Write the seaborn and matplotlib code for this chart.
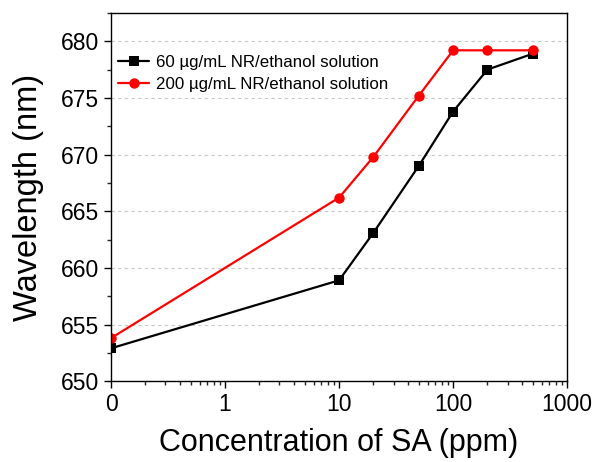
import numpy as np
import pandas as pd
import matplotlib
matplotlib.use("Agg")
import matplotlib.pyplot as plt
import seaborn as sns
from matplotlib.ticker import FixedLocator, LogLocator, MultipleLocator, NullFormatter

# data
conc = [0, 10, 20, 50, 100, 200, 500]
wl_60 = [652.9, 658.9, 663.1, 669.0, 673.8, 677.5, 678.9]
wl_200 = [653.8, 666.2, 669.8, 675.2, 679.2, 679.2, 679.2]
labels = ["60 \u00b5g/mL NR/ethanol solution", "200 \u00b5g/mL NR/ethanol solution"]
xticks = [0.1, 1, 10, 100, 1000]
xticklabels = ["0", "1", "10", "100", "1000"]

sns.set_style("ticks")
plt.rcParams['font.family'] = ['Liberation Sans', 'DejaVu Sans']
plt.rcParams['text.color'] = 'black'
plt.rcParams['axes.labelcolor'] = 'black'

# the axis is logarithmic, with 0 drawn where 0.1 would be
xpos = np.where(np.array(conc) == 0, 0.1, np.array(conc, dtype=float))
df = pd.DataFrame({
    'x': np.concatenate([xpos, xpos]),
    'y': wl_60 + wl_200,
    'series': [labels[0]] * len(conc) + [labels[1]] * len(conc),
})

fig = plt.figure(figsize=(5.97, 4.62), dpi=100)
ax = fig.add_axes([0.186, 0.175, 0.764, 0.797])

sns.lineplot(data=df, x='x', y='y', hue='series', style='series',
             palette={labels[0]: 'black', labels[1]: '#ff0000'},
             markers={labels[0]: 's', labels[1]: 'o'}, dashes=False,
             markersize=7.5, markeredgewidth=0, linewidth=1.6, ax=ax)

ax.set_xscale('log')
ax.set_xlim(0.1, 1000)
ax.set_ylim(650, 682.5)
ax.xaxis.set_major_locator(FixedLocator(xticks))
ax.set_xticklabels(xticklabels)
ax.xaxis.set_minor_locator(LogLocator(base=10, subs=np.arange(2, 10)))
ax.xaxis.set_minor_formatter(NullFormatter())
ax.yaxis.set_major_locator(MultipleLocator(5))
ax.yaxis.set_minor_locator(MultipleLocator(2.5))

ax.grid(axis='y', which='major', linestyle=(0, (3, 3)), color='#c8c8c8', linewidth=0.8)
ax.set_axisbelow(True)

for s in ax.spines.values():
    s.set_visible(True)
    s.set_linewidth(1.0)
    s.set_color('black')
ax.tick_params(which='major', direction='out', length=5, width=1, labelsize=16.5, colors='black')
ax.tick_params(which='minor', direction='out', length=3, width=1)

ax.set_xlabel('Concentration of SA (ppm)', fontsize=22, labelpad=9)
ax.set_ylabel('Wavelength (nm)', fontsize=23.5, labelpad=12)

ax.legend(title=None, loc='upper left', frameon=False, fontsize=12.2,
          bbox_to_anchor=(-0.01, 0.918), handlelength=1.8, handletextpad=0.4,
          labelspacing=0.4, borderaxespad=0.3)

fig.savefig('out.png', dpi=100)
